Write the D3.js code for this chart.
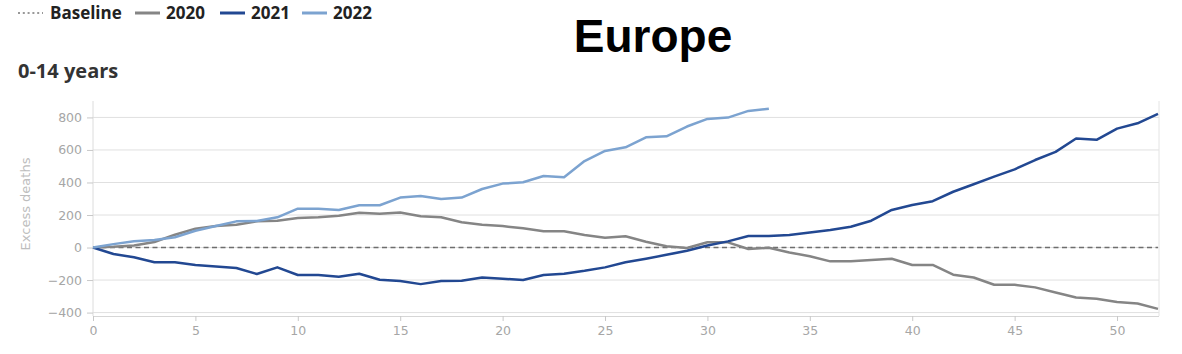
<!DOCTYPE html>
<html>
<head>
<meta charset="utf-8">
<script src="https://cdn.jsdelivr.net/npm/d3@7"></script>
<style>
  body { margin: 0; background: #fff; }
  svg { display: block; }
</style>
</head>
<body>
<svg id="chart" width="1182" height="354"></svg>
<script>
// week numbers and cumulative excess deaths
const weeks = d3.range(0, 53);
const y2020 = [0, 5, 13, 34, 79, 116, 132, 140, 161, 165, 181, 186, 196, 214, 207, 215, 193, 186, 155, 140,
  132, 118, 100, 100, 77, 60, 69, 36, 8, -3, 32, 32, -9, -1, -30, -54, -85, -85, -77, -69,
  -107, -107, -167, -184, -229, -229, -245, -276, -307, -315, -335, -344, -377];
const y2021 = [0, -40, -60, -91, -91, -108, -116, -126, -163, -122, -169, -169, -180, -161, -198, -206, -225, -206, -204, -184,
  -192, -200, -169, -161, -143, -122, -91, -69, -45, -20, 13, 38, 71, 71, 77, 93, 108, 128, 165, 231,
  261, 285, 343, 389, 436, 481, 538, 588, 670, 662, 731, 764, 822];
const y2022 = [0, 21, 38, 46, 63, 103, 132, 161, 163, 186, 239, 239, 231, 260, 260, 307, 317, 298, 307, 360,
  393, 401, 440, 432, 532, 594, 616, 678, 684, 744, 791, 799, 840, 854];
const yTicks = [-400, -200, 0, 200, 400, 600, 800];
const xTicks = [0, 5, 10, 15, 20, 25, 30, 35, 40, 45, 50];

const series = [
  { name: "2020", values: y2020, color: "#858585" },
  { name: "2021", values: y2021, color: "#224892" },
  { name: "2022", values: y2022, color: "#7ca3d0" }
];

const svg = d3.select("#chart");
const plotLeft = 93, plotRight = 1158, plotTop = 101, plotBottom = 316;
const uiFont = "'Open Sans', 'Noto Sans', sans-serif";
const axisFont = "'DejaVu Sans', sans-serif";

const x = d3.scaleLinear().domain([0, 52]).range([plotLeft, plotRight]);
const y = d3.scaleLinear().domain([-421, 901]).range([plotBottom, plotTop]);

// gridlines
svg.append("g")
  .selectAll("line")
  .data(yTicks)
  .join("line")
  .attr("x1", plotLeft).attr("x2", plotRight + 1)
  .attr("y1", d => y(d)).attr("y2", d => y(d))
  .attr("stroke", "#e0e0e0").attr("stroke-width", 1);

// plot frame (left + right edges)
svg.append("line").attr("x1", plotLeft).attr("x2", plotLeft).attr("y1", plotTop).attr("y2", plotBottom)
  .attr("stroke", "#dcdcdc");
svg.append("line").attr("x1", plotRight + 1).attr("x2", plotRight + 1).attr("y1", plotTop).attr("y2", plotBottom)
  .attr("stroke", "#e4e4e4");

// y axis
const yAxis = svg.append("g")
  .attr("transform", `translate(${plotLeft},0)`)
  .call(d3.axisLeft(y).tickValues(yTicks).tickSize(6).tickPadding(5));
yAxis.select(".domain").remove();

// x axis
const xAxis = svg.append("g")
  .attr("transform", `translate(0,${plotBottom})`)
  .call(d3.axisBottom(x).tickValues(xTicks).tickSize(5).tickPadding(5));
xAxis.select(".domain").attr("stroke", "#d6d6d6").attr("d", `M${plotLeft},0.5H${plotRight + 1}`);

svg.selectAll(".tick line").attr("stroke", "#c8c8c8");
svg.selectAll(".tick text")
  .attr("fill", "#a6a6a6")
  .style("font-family", axisFont)
  .style("font-size", "12.5px");

// y axis label
svg.append("text")
  .attr("transform", "rotate(-90)")
  .attr("x", -204)
  .attr("y", 30)
  .attr("text-anchor", "middle")
  .attr("fill", "#bdbdbd")
  .style("font-family", axisFont)
  .style("font-size", "13px")
  .text("Excess deaths");

// baseline
svg.append("line")
  .attr("x1", x(0)).attr("x2", x(52))
  .attr("y1", y(0)).attr("y2", y(0))
  .attr("stroke", "#6e6e6e")
  .attr("stroke-width", 1.5)
  .attr("stroke-dasharray", "5,3.5");

const line = d3.line()
  .x((d, i) => x(weeks[i]))
  .y(d => y(d));

svg.append("g")
  .selectAll("path")
  .data(series)
  .join("path")
  .attr("fill", "none")
  .attr("stroke", d => d.color)
  .attr("stroke-width", 2.5)
  .attr("stroke-linejoin", "round")
  .attr("d", d => line(d.values));

// legend
const legendItems = [
  { name: "Baseline", color: "#777", dash: "2,2.8", x: 18 },
  { name: "2020", color: series[0].color, dash: null, x: 135 },
  { name: "2021", color: series[1].color, dash: null, x: 220 },
  { name: "2022", color: series[2].color, dash: null, x: 302 }
];
const legend = svg.append("g");
legend.selectAll("line")
  .data(legendItems)
  .join("line")
  .attr("x1", d => d.x).attr("x2", d => d.x + 25)
  .attr("y1", 13).attr("y2", 13)
  .attr("stroke", d => d.color)
  .attr("stroke-width", d => d.dash ? 1.5 : 3)
  .attr("stroke-dasharray", d => d.dash);
legend.selectAll("text")
  .data(legendItems)
  .join("text")
  .attr("x", d => d.x + (d.dash ? 32 : 31))
  .attr("y", 19)
  .attr("fill", "#222")
  .style("font-family", uiFont)
  .style("font-weight", "bold")
  .style("font-size", "17px")
  .text(d => d.name);

// title
svg.append("text")
  .attr("x", 653)
  .attr("y", 52)
  .attr("text-anchor", "middle")
  .attr("fill", "#000")
  .style("font-family", "'Liberation Sans', Arial, sans-serif")
  .style("font-weight", "bold")
  .style("font-size", "46px")
  .text("Europe");

// subtitle
svg.append("text")
  .attr("x", 18)
  .attr("y", 78)
  .attr("fill", "#333")
  .style("font-family", uiFont)
  .style("font-weight", "bold")
  .style("font-size", "20px")
  .text("0-14 years");
</script>
</body>
</html>
